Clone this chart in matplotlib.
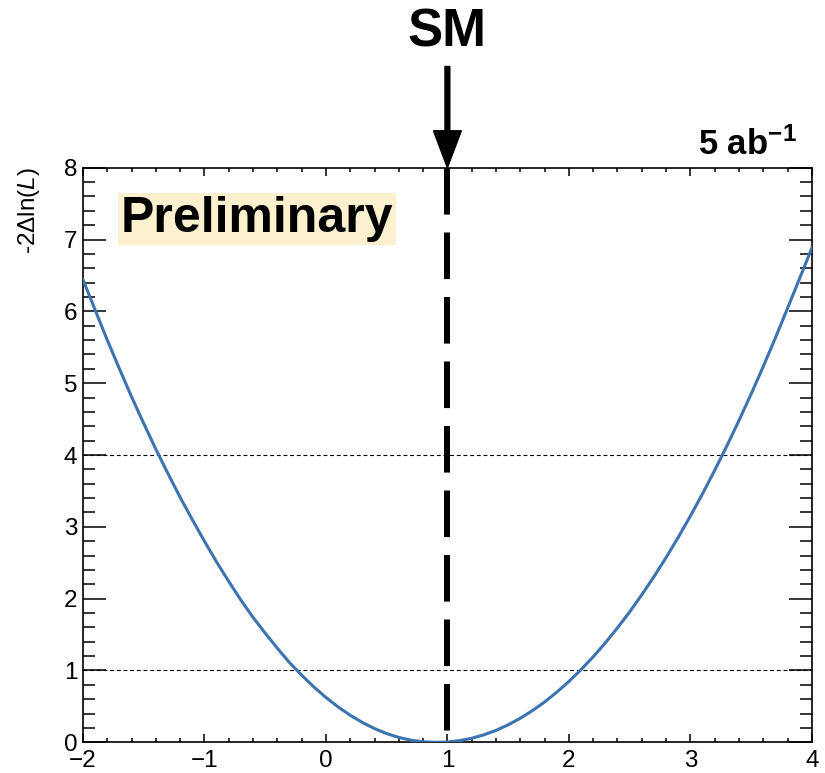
"""Profile likelihood scan, -2 Delta ln L vs coupling modifier (5 ab^-1)."""

import matplotlib

matplotlib.use("Agg")
import matplotlib.pyplot as plt
from matplotlib.ticker import MultipleLocator

# values (step 0.1)
scan_x = [-2.0, -1.9, -1.8, -1.7, -1.6, -1.5, -1.4, -1.3, -1.2, -1.1,
          -1.0, -0.9, -0.8, -0.7, -0.6, -0.5, -0.4, -0.3, -0.2, -0.1,
          0.0, 0.1, 0.2, 0.3, 0.4, 0.5, 0.6, 0.7, 0.8, 0.9,
          1.0, 1.1, 1.2, 1.3, 1.4, 1.5, 1.6, 1.7, 1.8, 1.9,
          2.0, 2.1, 2.2, 2.3, 2.4, 2.5, 2.6, 2.7, 2.8, 2.9,
          3.0, 3.1, 3.2, 3.3, 3.4, 3.5, 3.6, 3.7, 3.8, 3.9, 4.0]
scan_y = [6.44, 6.02, 5.60, 5.20, 4.81, 4.44, 4.08, 3.74, 3.41, 3.10,
          2.80, 2.51, 2.24, 1.98, 1.74, 1.52, 1.31, 1.11, 0.935, 0.772,
          0.625, 0.493, 0.377, 0.276, 0.191, 0.122, 0.068, 0.030, 0.007, 0.0,
          0.004, 0.023, 0.056, 0.104, 0.166, 0.243, 0.335, 0.441, 0.561, 0.697,
          0.847, 1.011, 1.19, 1.384, 1.593, 1.815, 2.053, 2.305, 2.572, 2.853,
          3.149, 3.46, 3.785, 4.125, 4.479, 4.848, 5.231, 5.63, 6.042, 6.46, 6.88]
cl_levels = [1, 4]
sm_value = 1.0
x_range = (-2, 4)
y_range = (0, 8)

plt.rcParams["font.family"] = ["Liberation Sans", "DejaVu Sans"]
plt.rcParams["mathtext.fontset"] = "custom"
plt.rcParams["mathtext.rm"] = "Liberation Sans"
plt.rcParams["mathtext.it"] = "Liberation Sans:italic"
plt.rcParams["mathtext.bf"] = "Liberation Sans:bold"

fig = plt.figure(figsize=(8.25, 7.73), dpi=100)
ax = fig.add_axes([0.1006, 0.0397, 0.8834, 0.7433])

ax.plot(scan_x, scan_y, color="#3b74b0", lw=2.2, zorder=3)
for lvl in cl_levels:
    ax.axhline(lvl, color="k", lw=0.8, ls=(0, (3.5, 2.5)), zorder=2)
ax.plot([sm_value, sm_value], [y_range[1], y_range[0]], color="k", lw=4.3,
        dashes=(7.8, 3.0), solid_capstyle="butt", dash_capstyle="butt", zorder=4)

# SM arrow above the frame
ax.arrow(sm_value, y_range[1] + 1.41, 0, -1.41, width=0.04, head_width=0.23,
         head_length=0.515, length_includes_head=True, color="k", clip_on=False, zorder=5)
fig.text(0.542, 0.958, "SM", fontsize=38, fontweight="bold", ha="center", va="center")
fig.text(0.966, 0.80, "5 ab$^{\\mathbf{-1}}$", fontsize=25, fontweight="bold",
         ha="right", va="baseline")

ax.text(0.052, 0.888, "Preliminary", transform=ax.transAxes, fontsize=36,
        fontweight="bold", ha="left", va="baseline",
        bbox=dict(boxstyle="square,pad=0.06", fc="#fdf0cf", ec="none"))

ax.set_xlim(*x_range)
ax.set_ylim(*y_range)
ax.xaxis.set_major_locator(MultipleLocator(1))
ax.xaxis.set_minor_locator(MultipleLocator(0.2))
ax.yaxis.set_major_locator(MultipleLocator(1))
ax.yaxis.set_minor_locator(MultipleLocator(0.2))
ax.tick_params(axis="both", which="both", direction="in", top=True, right=True,
               labelsize=17.5, width=1.1)
ax.tick_params(axis="x", which="major", length=5.8, pad=5.5)
ax.tick_params(axis="x", which="minor", length=2.9)
ax.tick_params(axis="y", which="major", length=16.6, pad=4)
ax.tick_params(axis="y", which="minor", length=8.6)
for sp in ax.spines.values():
    sp.set_linewidth(1.2)

ax.set_ylabel("-2Δln($\\mathit{L}$)", fontsize=17.5, loc="top")
ax.yaxis.set_label_coords(-0.056, 1.0)

fig.savefig("out.png", dpi=100)
plt.close(fig)
